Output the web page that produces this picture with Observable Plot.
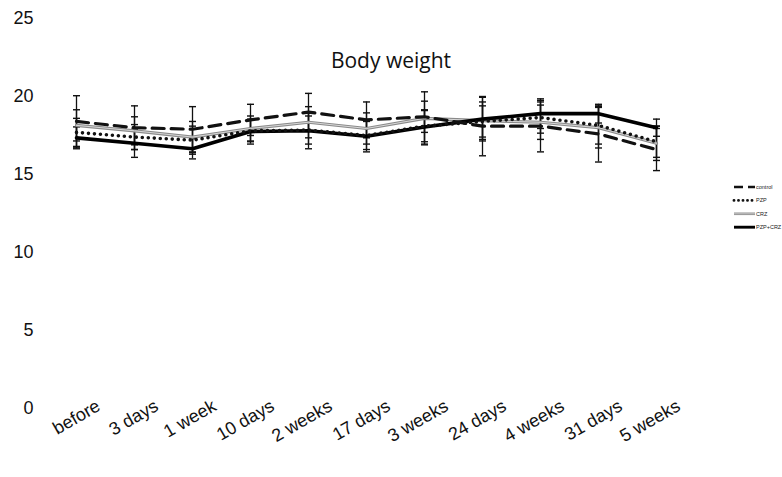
<!DOCTYPE html>
<html>
<head>
<meta charset="utf-8">
<script src="https://cdn.jsdelivr.net/npm/d3@7"></script>
<script src="https://cdn.jsdelivr.net/npm/@observablehq/plot@0.6"></script>
<style>
  html, body { margin: 0; padding: 0; background: #fff; }
  #wrap { position: relative; width: 782px; height: 477px; overflow: hidden; background: #fff; }
  #title { position: absolute; left: 0; width: 782px; top: 46px; text-align: center;
           font-family: "Open Sans", "Noto Sans", sans-serif; font-size: 21px; color: #111; padding-left: 0px; }
  #legend { position: absolute; left: 731px; top: 180px; }
</style>
</head>
<body>
<div id="wrap">
  <div id="chart"></div>
  <div id="title">Body weight</div>
  <div id="legend"></div>
</div>
<script>
const categories = ["before","3 days","1 week","10 days","2 weeks","17 days","3 weeks","24 days","4 weeks","31 days","5 weeks"];
const seriesNames = ["control","PZP","CRZ","PZP+CRZ"];
const yTicks = [0,5,10,15,20,25];

const controlMean = [18.4, 18.0, 17.9, 18.5, 19.0, 18.5, 18.7, 18.1, 18.1, 17.6, 16.6];
const pzpMean     = [17.7, 17.4, 17.2, 17.8, 17.85, 17.5, 18.1, 18.4, 18.65, 18.15, 17.1];
const crzMean     = [18.15, 17.8, 17.4, 17.95, 18.35, 17.95, 18.6, 18.45, 18.35, 18.0, 17.0];
const bothMean    = [17.35, 17.0, 16.65, 17.75, 17.8, 17.45, 18.05, 18.55, 18.9, 18.9, 18.0];

const controlSD = [1.65, 1.4, 1.45, 1.0, 1.2, 1.15, 1.0, 1.9, 1.65, 1.8, 1.35];
const pzpSD     = [0.9, 0.8, 0.9, 0.7, 0.9, 0.9, 1.0, 1.0, 1.0, 1.2, 1.0];
const crzSD     = [1.0, 0.9, 1.0, 0.8, 1.0, 1.0, 1.7, 1.2, 1.1, 1.3, 1.1];
const bothSD    = [0.7, 0.9, 0.65, 0.8, 1.15, 1.0, 1.1, 1.4, 0.95, 0.6, 0.55];

const means = [controlMean, pzpMean, crzMean, bothMean];
const sds = [controlSD, pzpSD, crzSD, bothSD];
const rows = [];
seriesNames.forEach((s, si) => categories.forEach((c, ci) => {
  rows.push({series: s, cat: c, mean: means[si][ci], sd: sds[si][ci]});
}));
const bySeries = s => rows.filter(d => d.series === s);

const capSymbol = {
  draw(ctx, size) {
    const w = Math.sqrt(size / Math.PI);
    ctx.moveTo(-w, 0); ctx.lineTo(w, 0);
  }
};

const styles = {
  "control":  {stroke: "#111", strokeWidth: 3.2, strokeDasharray: "12 7"},
  "PZP":      {stroke: "#111", strokeWidth: 3.6, strokeDasharray: "0 6", strokeLinecap: "round"},
  "CRZ":      {stroke: "#8a8a8a", strokeWidth: 3.2},
  "PZP+CRZ":  {stroke: "#000", strokeWidth: 3.6}
};

const chart = Plot.plot({
  width: 782, height: 477,
  marginTop: 18, marginBottom: 69, marginLeft: 44, marginRight: 95,
  style: {fontFamily: "'Liberation Sans', Arial, sans-serif", fontSize: "17px", background: "#fff", color: "#111"},
  x: {type: "point", domain: categories, padding: 0.5, axis: null},
  y: {domain: [0, 25], axis: null},
  marks: [
    Plot.axisY({ticks: yTicks, tickSize: 0, tickPadding: 11, fontSize: 18, label: null}),
    Plot.text(categories, {x: d => d, frameAnchor: "bottom", rotate: -30, textAnchor: "end", lineAnchor: "bottom", dx: 25, dy: 1, fontSize: 18, fill: "#111"}),
    Plot.ruleX(rows, {x: "cat", y1: d => d.mean - d.sd, y2: d => d.mean + d.sd, stroke: "#111", strokeWidth: 1.3}),
    Plot.dot(rows, {x: "cat", y: d => d.mean - d.sd, symbol: capSymbol, r: 3.5, stroke: "#111", strokeWidth: 1.4}),
    Plot.dot(rows, {x: "cat", y: d => d.mean + d.sd, symbol: capSymbol, r: 3.5, stroke: "#111", strokeWidth: 1.4}),
    Plot.line(bySeries("CRZ"), {x: "cat", y: "mean", ...styles["CRZ"]}),
    Plot.line(bySeries("CRZ"), {x: "cat", y: "mean", stroke: "#d8d8d8", strokeWidth: 1}),
    Plot.line(bySeries("PZP+CRZ"), {x: "cat", y: "mean", ...styles["PZP+CRZ"]}),
    Plot.line(bySeries("PZP"), {x: "cat", y: "mean", ...styles["PZP"]}),
    Plot.line(bySeries("control"), {x: "cat", y: "mean", ...styles["control"]})
  ]
});
document.getElementById("chart").appendChild(chart);

// legend
const lg = d3.select("#legend").append("svg").attr("width", 51).attr("height", 56)
  .style("font-family", "'Liberation Sans', Arial, sans-serif");
seriesNames.forEach((s, i) => {
  const y = 7 + i * 13.4;
  const st = styles[s];
  const ln = lg.append("line").attr("x1", 3).attr("x2", 24).attr("y1", y).attr("y2", y)
    .attr("stroke", st.stroke).attr("stroke-width", st.strokeWidth * 0.8);
  if (s === "control") ln.attr("stroke-dasharray", "9 5");
  if (s === "PZP") ln.attr("stroke-dasharray", "0 4.5").attr("stroke-linecap", "round");
  if (s === "CRZ") lg.append("line").attr("x1", 3).attr("x2", 24).attr("y1", y).attr("y2", y)
    .attr("stroke", "#d8d8d8").attr("stroke-width", 0.8);
  lg.append("text").attr("x", 25).attr("y", y + 2).attr("font-size", 5.5).attr("fill", "#222").text(s);
});
</script>
</body>
</html>
